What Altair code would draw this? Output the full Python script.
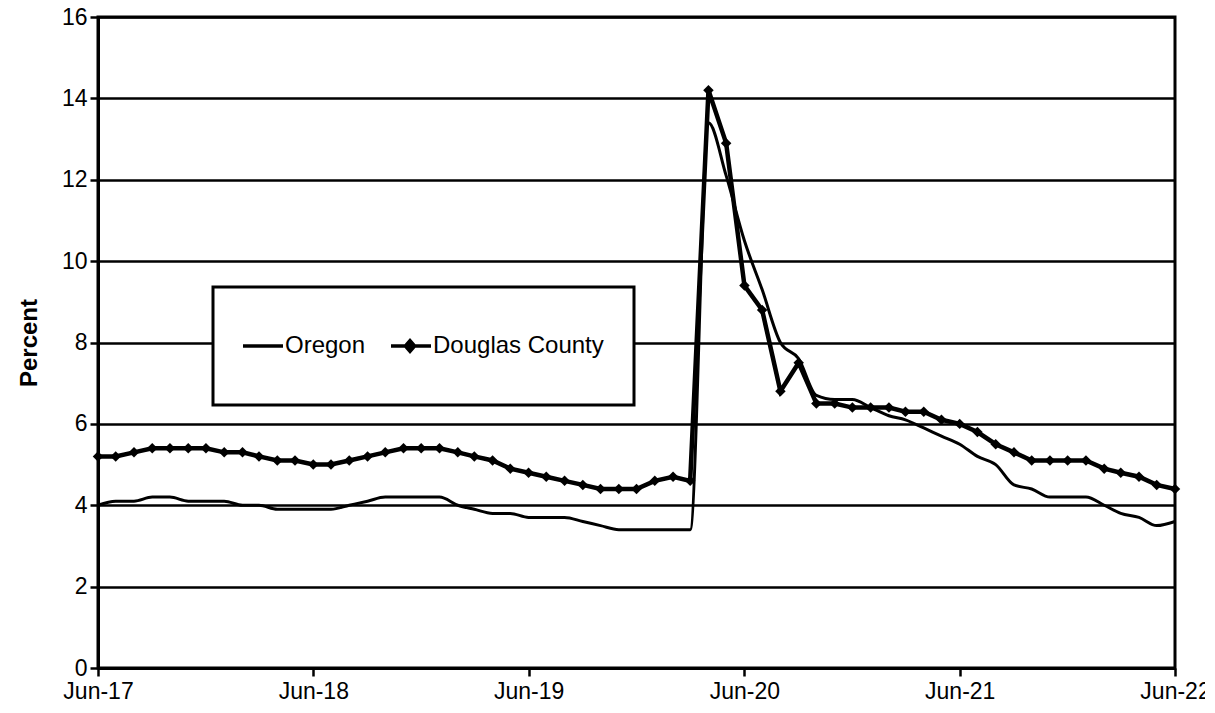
import altair as alt
import pandas as pd

# Monthly observations, Jun-2017 .. Jun-2022
months = [str(d.date()) for d in pd.date_range("2017-06-01", "2022-06-01", freq="MS")]

oregon = [
    4.0, 4.1, 4.1, 4.2, 4.2, 4.1, 4.1, 4.1, 4.0, 4.0,
    3.9, 3.9, 3.9, 3.9, 4.0, 4.1, 4.2, 4.2, 4.2, 4.2,
    4.0, 3.9, 3.8, 3.8, 3.7, 3.7, 3.7, 3.6, 3.5, 3.4,
    3.4, 3.4, 3.4, 3.4, 13.4, 12.1, 10.5, 9.3, 8.0, 7.6,
    6.7, 6.6, 6.6, 6.4, 6.2, 6.1, 5.9, 5.7, 5.5, 5.2,
    5.0, 4.5, 4.4, 4.2, 4.2, 4.2, 4.0, 3.8, 3.7, 3.5,
    3.6,
]

douglas = [
    5.2, 5.2, 5.3, 5.4, 5.4, 5.4, 5.4, 5.3, 5.3, 5.2,
    5.1, 5.1, 5.0, 5.0, 5.1, 5.2, 5.3, 5.4, 5.4, 5.4,
    5.3, 5.2, 5.1, 4.9, 4.8, 4.7, 4.6, 4.5, 4.4, 4.4,
    4.4, 4.6, 4.7, 4.6, 14.2, 12.9, 9.4, 8.8, 6.8, 7.5,
    6.5, 6.5, 6.4, 6.4, 6.4, 6.3, 6.3, 6.1, 6.0, 5.8,
    5.5, 5.3, 5.1, 5.1, 5.1, 5.1, 4.9, 4.8, 4.7, 4.5,
    4.4,
]

series_names = ["Oregon", "Douglas County"]
y_ticks = [0, 2, 4, 6, 8, 10, 12, 14, 16]
x_tick_years = [2017, 2018, 2019, 2020, 2021, 2022]

rows = []
for m, o, d in zip(months, oregon, douglas):
    rows.append({"date": m, "series": "Oregon", "value": o})
    rows.append({"date": m, "series": "Douglas County", "value": d})
df = pd.DataFrame(rows)

FONT = "Liberation Sans, Arial, sans-serif"

x_enc = alt.X(
    "date:T",
    scale=alt.Scale(
        type="utc",
        domain=[alt.DateTime(year=2017, month=6, date=1, utc=True),
                alt.DateTime(year=2022, month=6, date=1, utc=True)],
    ),
    axis=alt.Axis(
        values=[alt.DateTime(year=yr, month=6, date=1, utc=True) for yr in x_tick_years],
        labelExpr="utcFormat(datum.value, '%b-%y')",
        grid=False,
        tickSize=8,
        labelPadding=4,
        labelFlush=False,
        labelOverlap=False,
        title=None,
    ),
)

y_enc = alt.Y(
    "value:Q",
    scale=alt.Scale(domain=[0, 16], nice=False),
    axis=alt.Axis(
        values=y_ticks,
        grid=True,
        tickSize=8,
        labelPadding=3,
        title="Percent",
        titleFontSize=24,
        titleFontWeight="bold",
        titleFont=FONT,
        titleColor="black",
        titlePadding=20,
    ),
)

douglas_shape = "M-1,0L1,0M0,-0.25L0.22,0L0,0.25L-0.22,0Z"

legend = alt.Legend(
    title=None,
    orient="none",
    legendX=115,
    legendY=270,
    direction="horizontal",
    padding=30,
    clipHeight=58,
    strokeColor="black",
    fillColor="white",
    labelFont=FONT,
    labelFontSize=24,
    labelColor="black",
    labelOffset=0,
    labelLimit=400,
    columnPadding=25,
    symbolOffset=-4,
    symbolSize=1764,
    symbolStrokeWidth=3.5,
    symbolFillColor="black",
    symbolStrokeColor="black",
    symbolType=alt.ExprRef(
        "datum.value == 'Douglas County' ? '" + douglas_shape + "' : 'M-1,0L1,0'"
    ),
)

oregon_line = (
    alt.Chart(df)
    .transform_filter(alt.datum.series == "Oregon")
    .mark_line(interpolate="monotone", strokeWidth=3)
    .encode(
        x=x_enc,
        y=y_enc,
        stroke=alt.Stroke(
            "series:N",
            scale=alt.Scale(domain=series_names, range=["black", "black"]),
            legend=legend,
        ),
    )
)

douglas_line = (
    alt.Chart(df)
    .transform_filter(alt.datum.series == "Douglas County")
    .mark_line(strokeWidth=4.5, color="black")
    .encode(x=x_enc, y=y_enc)
)

douglas_pts = (
    alt.Chart(df)
    .transform_filter(alt.datum.series == "Douglas County")
    .mark_point(shape="diamond", filled=True, size=110, color="black", opacity=1)
    .encode(x=x_enc, y=y_enc)
)

chart = (
    alt.layer(oregon_line, douglas_line, douglas_pts)
    .properties(
        width=1077,
        height=651,
        autosize=alt.AutoSizeParams(type="none"),
        padding={"left": 90, "top": 9, "right": 30, "bottom": 36},
        background="white",
    )
    .configure_view(stroke="black", strokeWidth=3)
    .configure_axis(
        domainColor="black",
        domainWidth=3,
        tickColor="black",
        tickWidth=2.5,
        gridColor="black",
        gridWidth=2.5,
        gridOpacity=1,
        labelFont=FONT,
        labelFontSize=23,
        labelColor="black",
    )
    .configure_legend(strokeWidth=3)
)

chart.save("out.html", embed_options={"renderer": "svg", "actions": False})
